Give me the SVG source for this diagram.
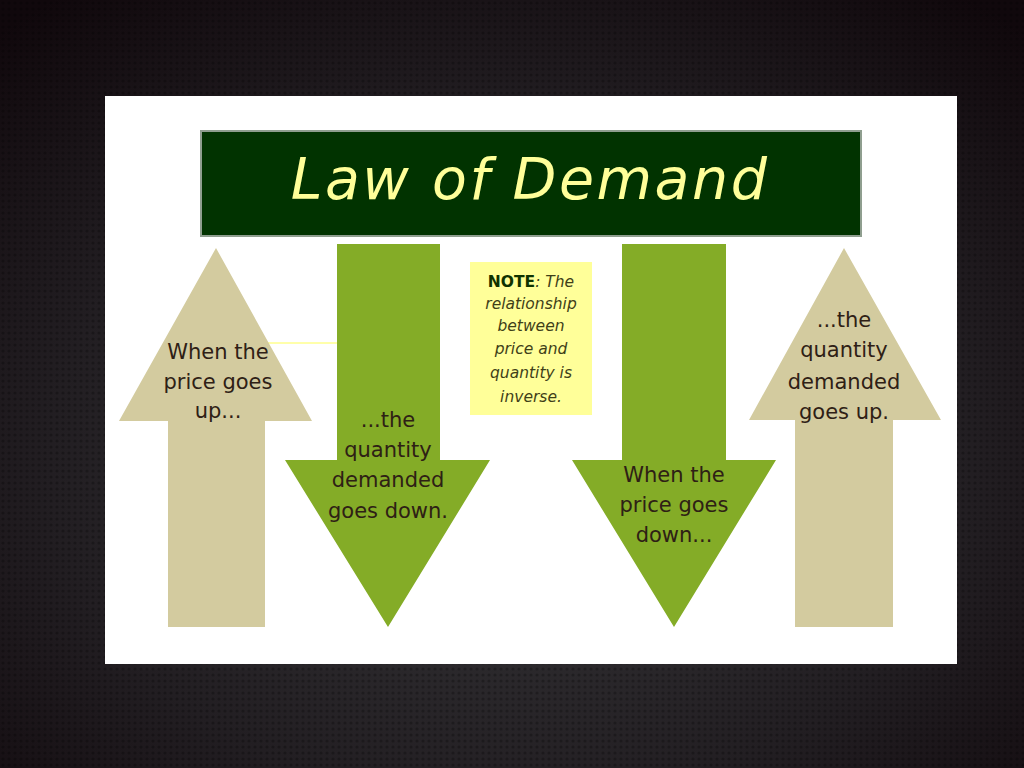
<svg xmlns="http://www.w3.org/2000/svg" width="1024" height="768" viewBox="0 0 1024 768">
<defs>
<radialGradient id="bg" cx="0.5" cy="0.6" r="0.75">
<stop offset="0" stop-color="#38383a"/>
<stop offset="0.6" stop-color="#221e22"/>
<stop offset="1" stop-color="#10080c"/>
</radialGradient>
<pattern id="tex" width="6" height="6" patternUnits="userSpaceOnUse">
<circle cx="3" cy="3" r="1.6" fill="#000" opacity="0.25"/>
</pattern>
</defs>
<style>
.tan{fill:#d3cb9f}
.grn{fill:#84ac27}
.lbl{font-family:"DejaVu Sans",Verdana,sans-serif;font-size:21px;fill:#2e2015;text-anchor:middle}
.note{font-family:"DejaVu Sans",Verdana,sans-serif;font-size:15.5px;font-style:italic;fill:#3f3f18;text-anchor:middle}
</style>
<rect width="1024" height="768" fill="url(#bg)"/>
<rect width="1024" height="768" fill="url(#tex)"/>
<rect x="105" y="96" width="852" height="568" fill="#ffffff"/>
<g id="title">
<rect x="201" y="131" width="660" height="105" fill="#013300" stroke="#8f9e8f" stroke-width="2"/>
<text x="530" y="199" font-family="'DejaVu Sans',Verdana,sans-serif" font-size="57" font-style="italic" letter-spacing="2.5" fill="#ffff99" text-anchor="middle">Law of Demand</text>
</g>
<g id="connectors">
<line x1="268" y1="343" x2="337" y2="343" stroke="#ffffaa" stroke-width="2"/>
</g>
<g id="price-up">
<polygon class="tan" points="216,248 312,421 265,421 265,627 168,627 168,421 119,421"/>
<text class="lbl" x="218" y="359">When the</text>
<text class="lbl" x="218" y="389">price goes</text>
<text class="lbl" x="218" y="418">up...</text>
</g>
<g id="qty-down">
<polygon class="grn" points="337,244 440,244 440,460 490,460 388,627 285,460 337,460"/>
<text class="lbl" x="388" y="427">...the</text>
<text class="lbl" x="388" y="457">quantity</text>
<text class="lbl" x="388" y="487">demanded</text>
<text class="lbl" x="388" y="518">goes down.</text>
</g>
<g id="note">
<rect x="470" y="262" width="122" height="153" fill="#ffff99"/>
<text class="note" x="531" y="287"><tspan font-style="normal" font-weight="bold" fill="#0f3300">NOTE</tspan>: The</text>
<text class="note" x="531" y="309">relationship</text>
<text class="note" x="531" y="331">between</text>
<text class="note" x="531" y="354">price and</text>
<text class="note" x="531" y="378">quantity is</text>
<text class="note" x="531" y="402">inverse.</text>
</g>
<g id="price-down">
<polygon class="grn" points="622,244 726,244 726,460 776,460 674,627 572,460 622,460"/>
<text class="lbl" x="674" y="482">When the</text>
<text class="lbl" x="674" y="512">price goes</text>
<text class="lbl" x="674" y="542">down...</text>
</g>
<g id="qty-up">
<polygon class="tan" points="844,248 941,420 893,420 893,627 795,627 795,420 749,420"/>
<text class="lbl" x="844" y="327">...the</text>
<text class="lbl" x="844" y="357">quantity</text>
<text class="lbl" x="844" y="389">demanded</text>
<text class="lbl" x="844" y="419">goes up.</text>
</g>
</svg>
